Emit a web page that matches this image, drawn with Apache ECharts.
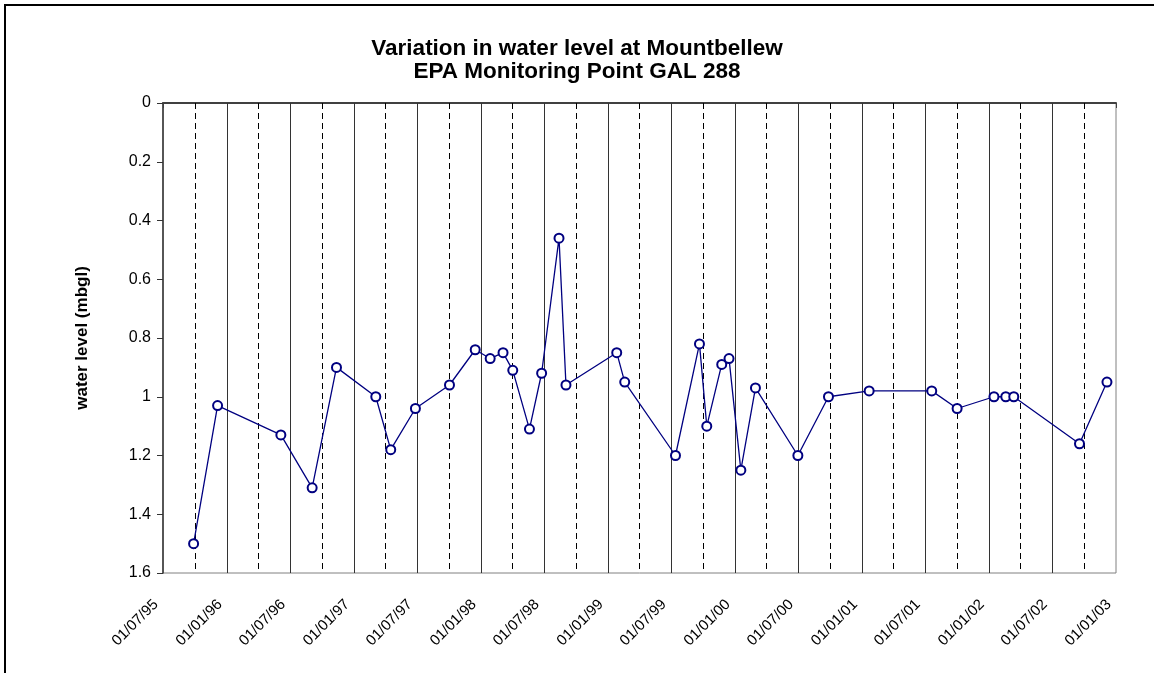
<!DOCTYPE html>
<html>
<head>
<meta charset="utf-8">
<script src="https://cdn.jsdelivr.net/npm/echarts@6/dist/echarts.min.js"></script>
<style>
  html, body { margin: 0; padding: 0; background: #fff; }
  #chart { width: 1154px; height: 673px; }
</style>
</head>
<body>
<div id="chart"></div>
<script>
// ---- Data ----
const titleLines = ['Variation in water level at Mountbellew', 'EPA Monitoring Point GAL 288'];
const yAxisName = 'water level (mbgl)';

// half-year tick labels (dd/mm/yy)
const tickLabels = ['01/07/95','01/01/96','01/07/96','01/01/97','01/07/97','01/01/98','01/07/98','01/01/99',
                    '01/07/99','01/01/00','01/07/00','01/01/01','01/07/01','01/01/02','01/07/02','01/01/03'];
// dashed quarter gridlines (dd/mm/yy)
const quarterLines = ['01/10/95','01/04/96','01/10/96','01/04/97','01/10/97','01/04/98','01/10/98','01/04/99',
                      '01/10/99','01/04/00','01/10/00','01/04/01','01/10/01','01/04/02','01/10/02'];

const sampleDates = ['1995-09-27','1995-12-05','1996-06-04','1996-09-02','1996-11-11','1997-03-04','1997-04-16',
                     '1997-06-26','1997-10-02','1997-12-15','1998-01-27','1998-03-05','1998-04-02','1998-05-20',
                     '1998-06-24','1998-08-13','1998-09-02','1999-01-26','1999-02-18','1999-07-14','1999-09-21',
                     '1999-10-12','1999-11-24','1999-12-15','2000-01-18','2000-02-29','2000-06-30','2000-09-26',
                     '2001-01-21','2001-07-20','2001-10-01','2002-01-15','2002-02-18','2002-03-13','2002-09-18',
                     '2002-12-06'];
const waterLevels = [1.50, 1.03, 1.13, 1.31, 0.90, 1.00, 1.18,
                     1.04, 0.96, 0.84, 0.87, 0.85, 0.91, 1.11,
                     0.92, 0.46, 0.96, 0.85, 0.95, 1.20, 0.82,
                     1.10, 0.89, 0.87, 1.25, 0.97, 1.20, 1.00,
                     0.98, 0.98, 1.04, 1.00, 1.00, 1.00, 1.16,
                     0.95];

// ---- Helpers ----
function parseDMY(s) {
  const p = s.split('/').map(Number);
  const yr = p[2] < 50 ? 2000 + p[2] : 1900 + p[2];
  return Date.UTC(yr, p[1] - 1, p[0]);
}
function parseISO(s) {
  const p = s.split('-').map(Number);
  return Date.UTC(p[0], p[1] - 1, p[2]);
}

const tickValues = tickLabels.map(parseDMY);
const quarterValues = quarterLines.map(parseDMY);
const seriesData = sampleDates.map((d, i) => [parseISO(d), waterLevels[i]]);
const FONT = "'Liberation Sans', Arial, sans-serif";

const chart = echarts.init(document.getElementById('chart'), null, { renderer: 'canvas' });
chart.setOption({
  animation: false,
  backgroundColor: '#fff',
  textStyle: { fontFamily: FONT },
  title: {
    text: titleLines.join('\n'),
    left: 'center',
    top: 32,
    textStyle: { fontFamily: FONT, fontSize: 22.5, fontWeight: 'bold', color: '#000', lineHeight: 23 }
  },
  graphic: [{
    type: 'rect',
    shape: { x: 5, y: 5, width: 1170, height: 700 },
    style: { fill: 'none', stroke: '#000', lineWidth: 2 },
    silent: true
  }],
  grid: {
    left: 163, right: 38, top: 103, bottom: 100,
    show: true, borderColor: '#808080', borderWidth: 1, backgroundColor: 'transparent'
  },
  xAxis: {
    type: 'value',
    min: tickValues[0],
    max: tickValues[tickValues.length - 1],
    axisLine: { show: true, lineStyle: { color: '#404040', width: 2 } },
    axisTick: { show: true, length: 5, lineStyle: { color: '#404040', width: 1 }, customValues: tickValues },
    splitLine: { show: false },
    axisLabel: {
      customValues: tickValues,
      rotate: 45,
      margin: 22,
      padding: [0, 10, 0, 0],
      fontSize: 15,
      color: '#000',
      fontFamily: FONT,
      formatter: function (v) {
        let best = 0, bd = Infinity;
        tickValues.forEach((t, i) => { const d = Math.abs(t - v); if (d < bd) { bd = d; best = i; } });
        return tickLabels[best];
      }
    }
  },
  yAxis: {
    type: 'value',
    inverse: true,
    min: 0, max: 1.6, interval: 0.2,
    name: yAxisName,
    nameLocation: 'middle',
    nameGap: 72,
    nameRotate: 90,
    nameTextStyle: { fontFamily: FONT, fontSize: 17, fontWeight: 'bold', color: '#000' },
    axisLine: { show: true, lineStyle: { color: '#333', width: 1.5 } },
    axisTick: { show: true, inside: false, length: 6, lineStyle: { color: '#333' } },
    splitLine: { show: false },
    axisLabel: { fontSize: 16, color: '#000', margin: 12, fontFamily: FONT }
  },
  series: [
    {
      name: 'solidGrid',
      type: 'line',
      data: [],
      z: 1,
      silent: true,
      markLine: {
        silent: true,
        symbol: 'none',
        label: { show: false },
        animation: false,
        lineStyle: { color: '#333', width: 1, type: 'solid' },
        data: tickValues.slice(1, -1).map(v => ({ xAxis: v }))
      }
    },
    {
      name: 'dashedGrid',
      type: 'line',
      data: [],
      z: 1,
      silent: true,
      markLine: {
        silent: true,
        symbol: 'none',
        label: { show: false },
        animation: false,
        lineStyle: { color: '#000', width: 1, type: [6, 4] },
        data: quarterValues.map(v => ({ xAxis: v }))
      }
    },
    {
      name: 'water level',
      type: 'line',
      z: 5,
      data: seriesData,
      symbol: 'emptyCircle',
      symbolSize: 9,
      showAllSymbol: true,
      lineStyle: { color: '#000080', width: 1.3 },
      itemStyle: { color: '#000080', borderColor: '#000080', borderWidth: 1.2 }
    }
  ]
});
</script>
</body>
</html>
